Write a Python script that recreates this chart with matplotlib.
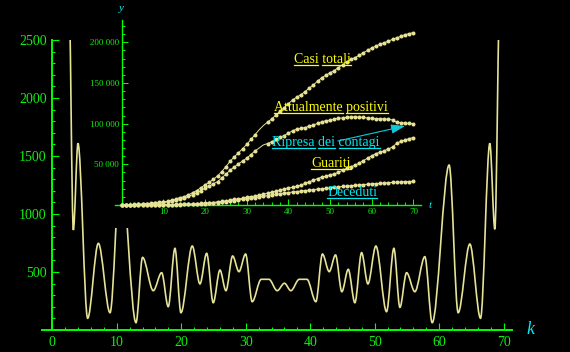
import matplotlib
matplotlib.use("Agg")
import matplotlib.pyplot as plt
from matplotlib.path import Path
from matplotlib.patches import PathPatch, Rectangle
from matplotlib.lines import Line2D

plt.rcParams['font.family'] = 'Liberation Serif'

GREEN = '#00ff00'
TXT_GREEN = '#11ee11'
CURVE = '#e6e296'
YELLOW = '#ffff00'
CYAN = '#00e8f0'

# main curve: turning points (k, value)
k_pts = [2.55, 3.26, 3.98, 5.48, 7.14, 8.95, 10.6, 12.98, 14.0, 15.66, 16.96,
         17.98, 19.02, 19.95, 21.71, 22.9, 23.94, 24.96, 26.0, 26.93, 27.97,
         28.95, 29.98, 31.0, 32.4, 33.6, 34.88, 36.0, 37.0, 38.3, 39.5, 40.88,
         41.9, 42.95, 43.93, 44.91, 45.9, 46.93, 47.97, 48.95, 50.19, 51.84,
         52.98, 53.91, 54.95, 56.23, 57.78, 58.92, 61.55, 62.95, 64.76, 66.42,
         67.86, 68.64, 69.45]
v_pts = [3000, 862, 1609, 101, 747, 149, 1420, 63, 626, 339, 494,
         201, 704, 149, 724, 397, 661, 235, 517, 339, 638,
         503, 655, 244, 437, 437, 339, 403, 339, 437, 437, 244,
         655, 503, 647, 330, 523, 235, 667, 397, 724, 158,
         704, 195, 494, 330, 632, 63, 1422, 149, 741, 101,
         1609, 868, 3000]

# inset: Italian COVID-19 figures, day 0 = 24 Feb 2020
days = list(range(71))
casi_totali = [229, 322, 400, 650, 888, 1128, 1694, 2036, 2502, 3089, 3858,
               4636, 5883, 7375, 9172, 10149, 12462, 15113, 17660, 21157,
               24747, 27980, 31506, 35713, 41035, 47021, 53578, 59138, 63927,
               69176, 74386, 80539, 86498, 92472, 97689, 101739, 105792,
               110574, 115242, 119827, 124632, 128948, 132547, 135586, 139422,
               143626, 147577, 152271, 156363, 159516, 162488, 165155, 168941,
               172434, 175925, 178972, 181228, 183957, 187327, 189973, 192994,
               195351, 197675, 199414, 201505, 203591, 205463, 207428, 209328,
               210717, 211938]
positivi = [221, 311, 385, 588, 821, 1049, 1577, 1835, 2263, 2706, 3296,
            3916, 5061, 6387, 7985, 8514, 10590, 12839, 14955, 17750, 20603,
            23073, 26062, 28710, 33190, 37860, 42681, 46638, 50418, 54030,
            57521, 62013, 66414, 70065, 73880, 75528, 77635, 80572, 83049,
            85388, 88274, 91246, 93187, 94067, 95262, 96877, 98273, 100269,
            102253, 103616, 104291, 105418, 106607, 106962, 107771, 108257,
            108237, 107709, 107699, 106848, 106527, 105847, 106103, 105813,
            105205, 104657, 101551, 100943, 100704, 100179, 99980]
guariti = [1, 1, 3, 45, 46, 50, 83, 149, 160, 276, 414, 523, 589, 622, 724,
           1004, 1045, 1258, 1439, 1966, 2335, 2749, 2941, 4025, 4440, 5129,
           6072, 7024, 7432, 8326, 9362, 10361, 10950, 12384, 13030, 14620,
           15729, 16847, 18278, 19758, 20996, 21815, 22837, 24392, 26491,
           28470, 30455, 32534, 34211, 35435, 37130, 38092, 40164, 42727,
           44927, 47055, 48877, 51600, 54543, 57576, 60498, 63120, 64928,
           66624, 68941, 71252, 75945, 78249, 79914, 81654, 82879]
deceduti = [7, 10, 12, 17, 21, 29, 34, 52, 79, 107, 148, 197, 233, 366, 463,
            631, 827, 1016, 1266, 1441, 1809, 2158, 2503, 2978, 3405, 4032,
            4825, 5476, 6077, 6820, 7503, 8165, 9134, 10023, 10779, 11591,
            12428, 13155, 13915, 14681, 15362, 15887, 16523, 17127, 17669,
            18279, 18849, 19468, 19899, 20465, 21067, 21645, 22170, 22745,
            23227, 23660, 24114, 24648, 25085, 25549, 25969, 26384, 26644,
            26977, 27359, 27682, 27967, 28236, 28710, 28884, 29079]
# days drawn without a dot on the two upper series
no_dot_days = [33, 34]

main_xticks = [0, 10, 20, 30, 40, 50, 60, 70]
main_yticks = [500, 1000, 1500, 2000, 2500]
inset_xticks = [10, 20, 30, 40, 50, 60, 70]
inset_yticks = [50000, 100000, 150000, 200000]
inset_ylabels = ['50 000', '100 000', '150 000', '200 000']

label_texts = ['Casi totali', 'Attualmente positivi', 'Ripresa dei contagi',
               'Guariti', 'Deceduti']
label_x = [48.1, 50.2, 49.0, 50.2, 55.3]
label_y = [175000, 116000, 73000, 46500, 11500]
label_colors = [YELLOW, YELLOW, CYAN, YELLOW, CYAN]

fig = plt.figure(figsize=(5.7, 3.52), dpi=100, facecolor='black')

# ---- main axes
ax = fig.add_axes([42 / 570, 22 / 352, 470 / 570, 290 / 352])
ax.set_facecolor('black')
ax.set_xlim(-1.6, 71.3)
ax.set_ylim(0, 2500)

# smooth curve through the turning points (flat tangents at each one)
verts = [(k_pts[0], v_pts[0])]
codes = [Path.MOVETO]
for i in range(1, len(k_pts)):
    x0, y0 = k_pts[i - 1], v_pts[i - 1]
    x1, y1 = k_pts[i], v_pts[i]
    dx = (x1 - x0) / 3
    verts += [(x0 + dx, y0), (x1 - dx, y1), (x1, y1)]
    codes += [Path.CURVE4] * 3
ax.add_patch(PathPatch(Path(verts, codes), fill=False, edgecolor=CURVE, lw=1.2))

for s in ['top', 'right']:
    ax.spines[s].set_visible(False)
ax.spines['left'].set_position(('data', 0))
for s in ['left', 'bottom']:
    ax.spines[s].set_color(GREEN)
    ax.spines[s].set_linewidth(1.4)
ax.set_xticks(main_xticks)
ax.set_xticks(range(0, 71, 2), minor=True)
ax.set_yticks(main_yticks)
ax.set_yticks(range(100, 2500, 100), minor=True)
ax.tick_params(which='both', direction='in', color=GREEN, width=0.8)
ax.tick_params(which='major', length=5, labelsize=10, labelcolor=TXT_GREEN, pad=4)
ax.tick_params(which='minor', length=2.5)
ax.text(74.1, 0, 'k', color=CYAN, fontsize=13, style='italic',
        ha='center', va='center', clip_on=False)

# ---- inset
ax2 = fig.add_axes([115 / 570, 147 / 352, 305.7 / 570, 185 / 352])
ax2.set_facecolor('black')
ax2.add_patch(Rectangle((86 / 570, 124 / 352), 351 / 570, 228 / 352,
                        transform=fig.transFigure, facecolor='black',
                        edgecolor='none', zorder=-10, clip_on=False))
ax2.set_xlim(-1.6, 71.75)
ax2.set_ylim(0, 227400)
dotted = [d for d in days if d not in no_dot_days]
for series, every in [(casi_totali, dotted), (positivi, dotted),
                      (guariti, None), (deceduti, None)]:
    ax2.plot(days, series, '-o', color=CURVE, lw=0.7, ms=2.9, mew=0,
             markevery=every, zorder=3, clip_on=False)

for s in ['top', 'right']:
    ax2.spines[s].set_visible(False)
ax2.spines['left'].set_position(('data', 0))
for s in ['left', 'bottom']:
    ax2.spines[s].set_color(GREEN)
    ax2.spines[s].set_linewidth(1.0)
ax2.set_xticks(inset_xticks)
ax2.set_xticks(range(2, 71, 2), minor=True)
ax2.set_yticks(inset_yticks, inset_ylabels)
ax2.set_yticks(range(10000, 227000, 10000), minor=True)
ax2.tick_params(which='both', direction='in', color=GREEN, width=0.7)
ax2.tick_params(which='major', length=4, labelsize=6.5, labelcolor=TXT_GREEN, pad=2)
ax2.tick_params(which='minor', length=2.2)
ax2.text(74.0, 0, 't', color=CYAN, fontsize=8, style='italic',
         ha='center', va='center', clip_on=False)
ax2.text(0, 242000, 'y', color=CYAN, fontsize=8, style='italic',
         ha='center', va='center', clip_on=False)

ax2.annotate('', xy=(68.0, 97100), xytext=(51.9, 78700),
             arrowprops=dict(arrowstyle='-|>,head_length=0.6,head_width=0.2',
                             color='#10c8d8', lw=0.8, mutation_scale=14,
                             shrinkA=0, shrinkB=0))

texts = []
for txt, x, y, c in zip(label_texts, label_x, label_y, label_colors):
    texts.append(ax2.text(x, y, txt, color=c, fontsize=10,
                          ha='center', va='baseline', zorder=5))

# underline each word separately
fig.canvas.draw()
rend = fig.canvas.get_renderer()
to_fig = fig.transFigure.inverted()
for t, txt, x, y, c in zip(texts, label_texts, label_x, label_y, label_colors):
    bb = t.get_window_extent(rend)
    prop = t.get_fontproperties()
    base = ax2.transData.transform((x, y))[1] - 2
    pos = 0
    for w in txt.split(' '):
        start = txt.index(w, pos)
        end = start + len(w)
        pos = end
        w_end = rend.get_text_width_height_descent(txt[:end], prop, ismath=False)[0]
        w_w = rend.get_text_width_height_descent(w, prop, ismath=False)[0]
        p0 = to_fig.transform((bb.x0 + w_end - w_w, base))
        p1 = to_fig.transform((bb.x0 + w_end, base))
        fig.add_artist(Line2D([p0[0], p1[0]], [p0[1], p1[1]], color=c, lw=0.9))

fig.savefig('out.png', dpi=100, facecolor='black')
